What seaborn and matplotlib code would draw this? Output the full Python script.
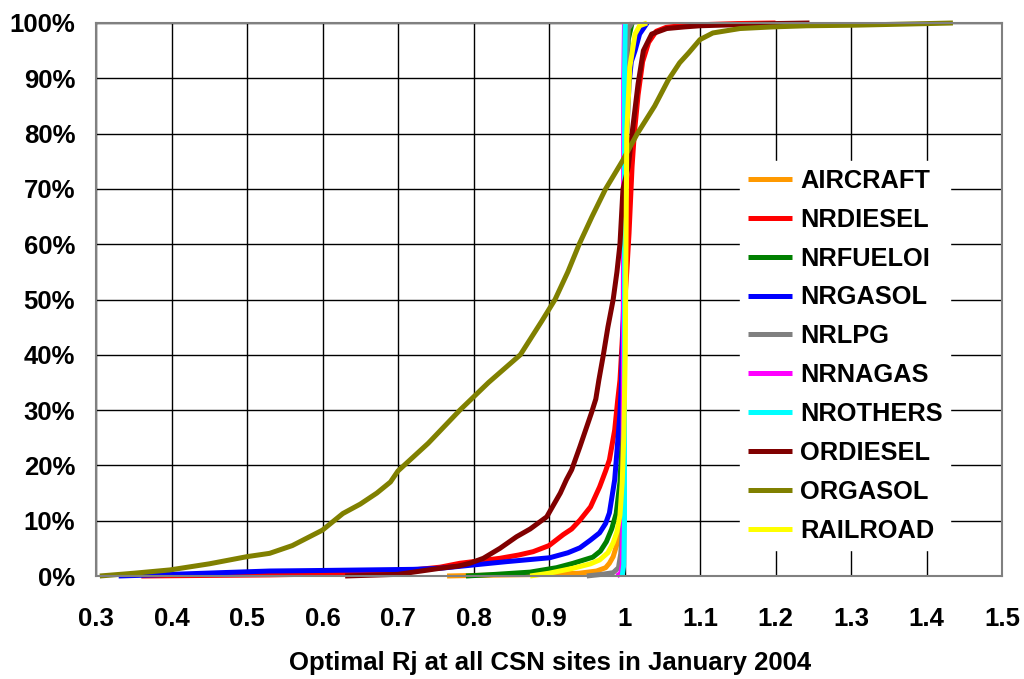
import matplotlib
matplotlib.use("Agg")
import matplotlib.pyplot as plt
import seaborn as sns
import pandas as pd
from matplotlib.ticker import FuncFormatter

series_names = ["AIRCRAFT", "NRDIESEL", "NRFUELOI", "NRGASOL", "NRLPG",
                "NRNAGAS", "NROTHERS", "ORDIESEL", "ORGASOL", "RAILROAD"]
series_colors = ["#FF9900", "#FF0000", "#008000", "#0000FF", "#808080",
                 "#FF00FF", "#00FFFF", "#800000", "#808000", "#FFFF00"]

aircraft_x = [0.765, 0.80, 0.85, 0.90, 0.94, 0.963, 0.975, 0.98, 0.985, 0.989, 0.994, 0.997, 0.999, 1.0, 1.001, 1.003, 1.008]
aircraft_y = [0, 0.1, 0.2, 0.3, 0.5, 0.9, 1.5, 2.3, 3.5, 5.3, 8, 11, 20, 50, 90, 98, 100]

nrdiesel_x = [0.36, 0.53, 0.62, 0.70, 0.756, 0.782, 0.80, 0.835, 0.86, 0.879, 0.90, 0.919, 0.93, 0.941, 0.955, 0.967, 0.975, 0.98, 0.987, 0.991, 0.994, 0.998, 1.003, 1.006, 1.008, 1.010, 1.013, 1.018, 1.024, 1.032, 1.042, 1.055, 1.08, 1.15, 1.2]
nrdiesel_y = [0, 0.2, 0.4, 0.8, 1.6, 2.3, 2.6, 3.2, 3.8, 4.4, 5.5, 7.5, 8.5, 10.1, 12.5, 16.1, 19, 21, 26.4, 31.8, 35.4, 45, 55, 62, 68, 74, 80, 87, 93, 96.5, 98.5, 99.2, 99.6, 99.9, 100]

nrfueloi_x = [0.79, 0.83, 0.875, 0.91, 0.932, 0.958, 0.968, 0.976, 0.983, 0.989, 0.994, 0.997, 0.999, 1.0, 1.002, 1.005, 1.01]
nrfueloi_y = [0, 0.3, 0.7, 1.5, 2.3, 3.4, 4.5, 6.2, 8.5, 11.3, 17, 25, 35, 50, 85, 97, 100]

nrgasol_x = [0.33, 0.40, 0.53, 0.60, 0.72, 0.756, 0.80, 0.844, 0.901, 0.925, 0.941, 0.955, 0.967, 0.975, 0.98, 0.987, 0.994, 0.996, 0.999, 1.001, 1.003, 1.006, 1.009, 1.014, 1.02, 1.03]
nrgasol_y = [0, 0.3, 0.9, 1.0, 1.2, 1.4, 2.0, 2.6, 3.3, 4.2, 5.1, 6.5, 7.8, 9.5, 11.4, 17.4, 29.4, 35, 50, 70, 80, 89, 93, 95, 98, 100]

nrlpg_x = [0.95, 0.97, 0.985, 0.992, 0.995, 0.997, 0.999, 1.002, 1.005, 1.01]
nrlpg_y = [0, 0.3, 0.6, 1.5, 4, 8, 20, 90, 99, 100]

nrnagas_x = [0.99, 0.995, 0.997, 0.998, 0.999, 1.0]
nrnagas_y = [0, 0.5, 2, 10, 90, 100]

nrothers_x = [0.997, 0.999, 1.0, 1.0, 1.001]
nrothers_y = [0, 2, 10, 90, 100]

ordiesel_x = [0.63, 0.70, 0.756, 0.78, 0.795, 0.813, 0.835, 0.857, 0.875, 0.897, 0.915, 0.923, 0.93, 0.941, 0.95, 0.956, 0.962, 0.966, 0.972, 0.978, 0.985, 0.99, 0.994, 0.998, 1.005, 1.01, 1.018, 1.025, 1.036, 1.056, 1.08, 1.1, 1.15, 1.2, 1.245]
ordiesel_y = [0, 0.3, 1.4, 1.8, 2.3, 3.2, 5.0, 7.1, 8.5, 10.7, 15, 17.4, 19.2, 23.4, 27, 29.4, 32, 35.4, 40, 45, 50, 55, 60, 70, 74, 80, 89, 95, 98, 99, 99.3, 99.5, 99.7, 99.9, 100]

orgasol_x = [0.305, 0.35, 0.398, 0.45, 0.50, 0.53, 0.56, 0.60, 0.627, 0.65, 0.672, 0.69, 0.70, 0.74, 0.782, 0.82, 0.862, 0.89, 0.908, 0.925, 0.94, 0.957, 0.975, 0.997, 1.017, 1.04, 1.058, 1.073, 1.085, 1.1, 1.117, 1.153, 1.197, 1.242, 1.303, 1.37, 1.435]
orgasol_y = [0, 0.5, 1.1, 2.2, 3.5, 4.1, 5.5, 8.3, 11.3, 13, 15, 17, 19, 24, 30, 35, 40, 46, 50, 55, 60, 65, 70, 75, 80, 85, 89.7, 92.8, 94.6, 97, 98.2, 99, 99.3, 99.5, 99.6, 99.8, 100]

railroad_x = [0.875, 0.90, 0.932, 0.955, 0.967, 0.978, 0.985, 0.99, 0.994, 0.997, 0.999, 1.001, 1.002, 1.003, 1.005, 1.007, 1.014, 1.02, 1.03]
railroad_y = [0, 0.5, 1.4, 2.2, 2.9, 4.2, 6, 8, 11, 17, 25, 40, 60, 80, 86, 92, 98, 99.5, 100]

x_ticks = [0.3, 0.4, 0.5, 0.6, 0.7, 0.8, 0.9, 1.0, 1.1, 1.2, 1.3, 1.4, 1.5]
x_tick_labels = ["0.3", "0.4", "0.5", "0.6", "0.7", "0.8", "0.9", "1", "1.1", "1.2", "1.3", "1.4", "1.5"]
y_ticks = [0, 10, 20, 30, 40, 50, 60, 70, 80, 90, 100]
x_label = "Optimal Rj at all CSN sites in January 2004"

all_x = [aircraft_x, nrdiesel_x, nrfueloi_x, nrgasol_x, nrlpg_x,
         nrnagas_x, nrothers_x, ordiesel_x, orgasol_x, railroad_x]
all_y = [aircraft_y, nrdiesel_y, nrfueloi_y, nrgasol_y, nrlpg_y,
         nrnagas_y, nrothers_y, ordiesel_y, orgasol_y, railroad_y]

frames = []
for name, xs, ys in zip(series_names, all_x, all_y):
    frames.append(pd.DataFrame({"Rj": xs, "pct": ys, "source": name}))
df = pd.concat(frames, ignore_index=True)

sns.set_style("white")
plt.rcParams["font.family"] = ["Liberation Sans", "DejaVu Sans"]
plt.rcParams["font.weight"] = "bold"
plt.rcParams["text.color"] = "black"
plt.rcParams["xtick.color"] = "black"
plt.rcParams["ytick.color"] = "black"
plt.rcParams["xtick.labelcolor"] = "black"
plt.rcParams["ytick.labelcolor"] = "black"

fig = plt.figure(figsize=(10.24, 6.79), dpi=100)
ax = fig.add_axes([96 / 1024, 1 - 576 / 679, 906 / 1024, 553 / 679])

sns.lineplot(data=df, x="Rj", y="pct", hue="source", hue_order=series_names,
             palette=dict(zip(series_names, series_colors)),
             sort=False, estimator=None, linewidth=3.6, ax=ax)
for line in ax.lines:
    line.set_clip_on(False)
    line.set_solid_joinstyle("round")
    line.set_solid_capstyle("butt")

ax.set_xlim(0.3, 1.5)
ax.set_ylim(0, 100)
ax.set_xticks(x_ticks)
ax.set_xticklabels(x_tick_labels)
ax.set_yticks(y_ticks)
ax.yaxis.set_major_formatter(FuncFormatter(lambda v, p: f"{int(round(v))}%"))
ax.grid(True, color="black", linewidth=1.0)
ax.set_axisbelow(True)
for s in ax.spines.values():
    s.set_color("#808080")
    s.set_linewidth(1.5)
ax.tick_params(axis="x", length=0, pad=22, labelsize=18.5, labelcolor="black")
ax.tick_params(axis="y", length=0, pad=15, labelsize=18.5, labelcolor="black")
for lab in ax.get_xticklabels() + ax.get_yticklabels():
    lab.set_fontweight("bold")
ax.set_xlabel("")
ax.set_ylabel("")
fig.text(0.537, 1 - 663 / 679, x_label, fontsize=18.5, fontweight="bold",
         color="black", ha="center", va="center")

leg = ax.legend(loc="upper left", bbox_to_anchor=(0.711, 0.75), frameon=True,
                fontsize=18.3, labelspacing=0.585, handlelength=1.75,
                handletextpad=0.3, borderpad=0.3, borderaxespad=0)
leg.get_frame().set_facecolor("white")
leg.get_frame().set_edgecolor("white")
leg.get_frame().set_alpha(1.0)
leg.get_frame().set_boxstyle("square", pad=0)
for t in leg.get_texts():
    t.set_fontweight("bold")
    t.set_color("black")
for h in leg.get_lines():
    h.set_linewidth(3.6)

fig.savefig("out.png", dpi=100)
